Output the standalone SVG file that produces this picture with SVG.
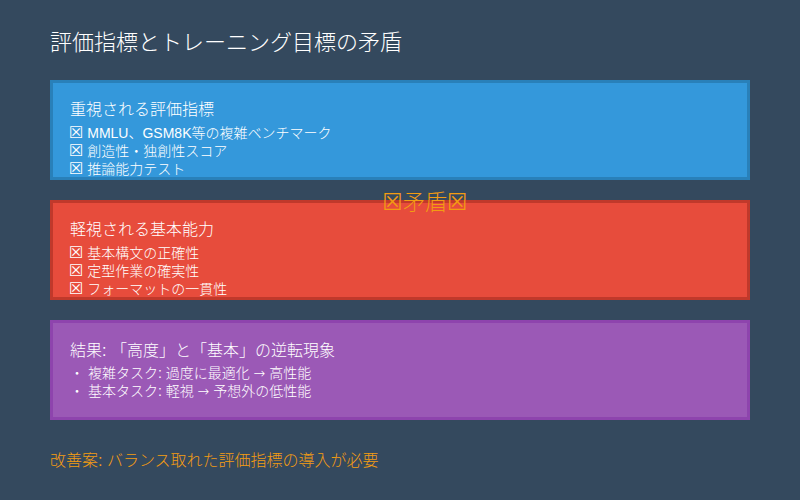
<svg xmlns="http://www.w3.org/2000/svg" width="800" height="500" viewBox="0 0 800 500">
<style>
text{font-family:"Liberation Sans","Noto Sans CJK JP","DejaVu Sans",sans-serif;font-weight:300;fill:#ffffff}
.h{font-size:16px}
.i{font-size:14px}
.o{fill:#f39c12}
.t{font-family:"DejaVu Sans",sans-serif;font-weight:normal;font-size:16px}
.tb{font-family:"DejaVu Sans",sans-serif;font-weight:normal;font-size:23px}
.a{font-family:"DejaVu Sans",sans-serif}
</style>
<rect x="0" y="0" width="800" height="500" fill="#34495e"/>
<text id="title" x="50" y="50" style="font-size:22px">評価指標とトレーニング目標の矛盾</text>
<g id="connectors"></g>
<g id="valued">
<rect x="51.5" y="81.5" width="697" height="97" fill="#3498db" stroke="#2980b9" stroke-width="3"/>
<text class="h" x="70" y="115">重視される評価指標</text>
<text class="i" x="69" y="138"><tspan class="t">☒</tspan> MMLU、GSM8K等の複雑ベンチマーク</text>
<text class="i" x="69" y="156"><tspan class="t">☒</tspan> 創造性・独創性スコア</text>
<text class="i" x="69" y="174"><tspan class="t">☒</tspan> 推論能力テスト</text>
</g>
<g id="neglected">
<rect x="51.5" y="201.5" width="697" height="97" fill="#e74c3c" stroke="#c0392b" stroke-width="3"/>
<text class="h" x="70" y="235">軽視される基本能力</text>
<text class="i" x="69" y="258"><tspan class="t">☒</tspan> 基本構文の正確性</text>
<text class="i" x="69" y="276"><tspan class="t">☒</tspan> 定型作業の確実性</text>
<text class="i" x="69" y="294"><tspan class="t">☒</tspan> フォーマットの一貫性</text>
</g>
<g id="conflict">
<text class="o" x="425" y="210" text-anchor="middle" style="font-size:22px"><tspan class="tb">☒</tspan>矛盾<tspan class="tb">☒</tspan></text>
</g>
<g id="result">
<rect x="51.5" y="321.5" width="697" height="97" fill="#9b59b6" stroke="#8e44ad" stroke-width="3"/>
<text class="h" x="70" y="356">結果: 「高度」と「基本」の逆転現象</text>
<text class="i" x="70" y="378">・ 複雑タスク: 過度に最適化 <tspan class="a">→</tspan> 高性能</text>
<text class="i" x="70" y="396">・ 基本タスク: 軽視 <tspan class="a">→</tspan> 予想外の低性能</text>
</g>
<g id="improvement">
<text class="h o" x="50" y="466">改善案: バランス取れた評価指標の導入が必要</text>
</g>
</svg>
